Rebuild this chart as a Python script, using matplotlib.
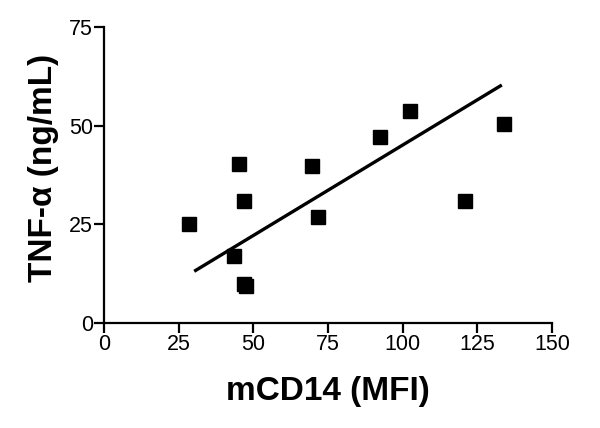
import numpy as np
import matplotlib
matplotlib.use('Agg')
import matplotlib.pyplot as plt

plt.rcParams['font.family'] = ['Liberation Sans', 'DejaVu Sans']

# mCD14 (MFI) vs TNF-alpha (ng/mL)
mcd14 = [28.4, 43.4, 45.3, 46.8, 46.8, 47.7, 69.6, 71.7, 92.3, 102.6, 121.0, 134.0]
tnf = [25.2, 16.9, 40.4, 30.8, 10.0, 9.3, 39.7, 26.9, 47.1, 53.6, 30.8, 50.3]
# fitted line as drawn in the figure
fit_x = [30.2, 133.2]
fit_y = [13.1, 60.3]
xticks = [0, 25, 50, 75, 100, 125, 150]
yticks = [0, 25, 50, 75]

fig = plt.figure(figsize=(6, 4.28), dpi=100)
ax = fig.add_axes([104/600, 1-323/428, 448/600, 296/428])
ax.plot(mcd14, tnf, 's', color='black', markersize=10, clip_on=False)
ax.plot(fit_x, fit_y, color='black', lw=2.4, solid_capstyle='butt')

ax.set_xlim(0, 150)
ax.set_ylim(0, 75)
ax.set_xticks(xticks)
ax.set_yticks(yticks)
for s in ['top', 'right']:
    ax.spines[s].set_visible(False)
for s in ['left', 'bottom']:
    ax.spines[s].set_linewidth(1.6)
ax.tick_params(width=1.6, length=7, labelsize=15.5, pad=1)
ax.set_xlabel('mCD14 (MFI)', fontsize=24, fontweight='bold', labelpad=15)
ax.set_ylabel('TNF-α (ng/mL)', fontsize=24, fontweight='bold')
ax.yaxis.set_label_coords(-0.1, 0.525)

fig.savefig('out.png', dpi=100)
